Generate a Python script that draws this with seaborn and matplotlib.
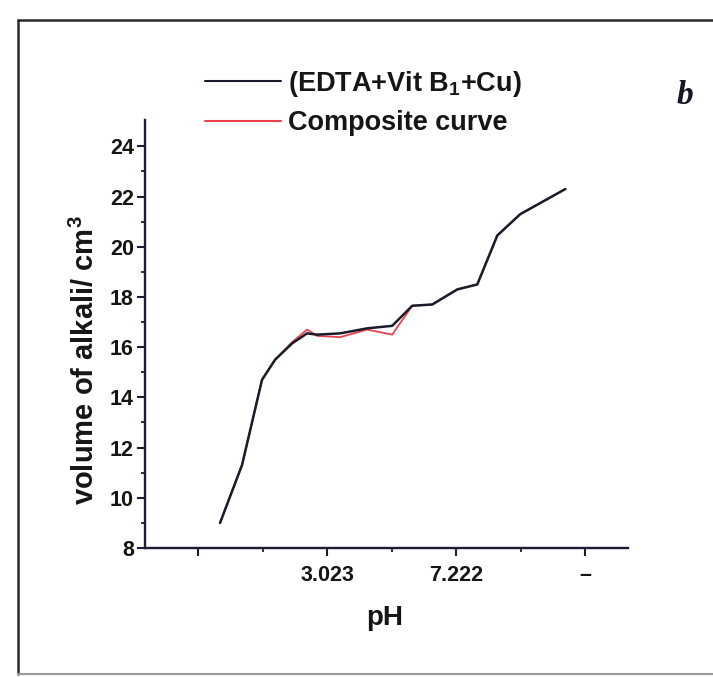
import matplotlib
matplotlib.use("Agg")
import matplotlib.pyplot as plt
from matplotlib.lines import Line2D
from matplotlib.ticker import FixedLocator
import seaborn as sns
import pandas as pd

# ---- data ----
x_pos = [0.171, 0.341, 0.496, 0.597, 0.729, 0.845, 0.922, 1.101, 1.310,
         1.504, 1.659, 1.814, 2.008, 2.163, 2.318, 2.496, 2.845]
vol_edta = [9.0, 11.3, 14.7, 15.5, 16.15, 16.55, 16.5, 16.55, 16.75,
            16.85, 17.65, 17.7, 18.3, 18.5, 20.45, 21.3, 22.3]
vol_comp = [9.0, 11.3, 14.7, 15.5, 16.2, 16.7, 16.45, 16.4, 16.7,
            16.5, 17.65, 17.7, 18.3, 18.5, 20.45, 21.3, 22.3]
label_edta = r"(EDTA+Vit B$_\mathbf{1}$+Cu)"
label_comp = "Composite curve"
x_major = [0, 1, 2, 3]
x_major_labels = ["", "3.023", "7.222", "\u2013"]
x_minor = [0.5, 1.5, 2.5]
y_major = [8, 10, 12, 14, 16, 18, 20, 22, 24]
y_minor = [9, 11, 13, 15, 17, 19, 21, 23]

df = pd.DataFrame({
    "x": x_pos + x_pos,
    "y": vol_comp + vol_edta,
    "series": [label_comp] * len(x_pos) + [label_edta] * len(x_pos),
})

sns.set_style("white")
plt.rcParams["font.family"] = ["Liberation Sans", "DejaVu Sans"]
plt.rcParams["font.weight"] = "bold"
plt.rcParams["mathtext.fontset"] = "custom"
plt.rcParams["mathtext.rm"] = "Liberation Sans:bold"
plt.rcParams["mathtext.bf"] = "Liberation Sans:bold"
plt.rcParams["mathtext.it"] = "Liberation Sans:bold:italic"

W, H = 713, 677
fig = plt.figure(figsize=(W / 100, H / 100), dpi=100)
fig.patch.set_facecolor("white")

ax_l, ax_r, ax_t, ax_b = 145, 628, 120, 548
ax = fig.add_axes([ax_l / W, 1 - ax_b / H, (ax_r - ax_l) / W, (ax_b - ax_t) / H])

c_black = "#1b1b2b"
c_red = "#e8424c"
sns.lineplot(data=df, x="x", y="y", hue="series",
             hue_order=[label_comp, label_edta],
             palette={label_comp: c_red, label_edta: c_black},
             sort=False, estimator=None, ax=ax, legend=True)
for ln in ax.get_lines():
    if ln.get_color() == c_red:
        ln.set_linewidth(1.3)
    else:
        ln.set_linewidth(1.8)

ax.set_xlim(-0.41, 3.33)
ax.set_ylim(8, 25.05)

spine_c = "#1c1c34"
for s in ["top", "right"]:
    ax.spines[s].set_visible(False)
for s in ["left", "bottom"]:
    ax.spines[s].set_linewidth(1.7)
    ax.spines[s].set_color(spine_c)

ax.xaxis.set_major_locator(FixedLocator(x_major))
ax.set_xticklabels(x_major_labels)
ax.xaxis.set_minor_locator(FixedLocator(x_minor))
ax.yaxis.set_major_locator(FixedLocator(y_major))
ax.yaxis.set_minor_locator(FixedLocator(y_minor))
ax.tick_params(axis="both", which="both", bottom=True, left=True, top=False, right=False)
ax.tick_params(axis="both", which="major", direction="out", length=6, width=1.5,
               colors=spine_c, labelcolor="#161616", labelsize=15.5)
ax.tick_params(axis="both", which="minor", direction="out", length=3, width=1.3,
               colors=spine_c)
ax.tick_params(axis="x", which="major", pad=6)
ax.tick_params(axis="y", which="major", pad=2)
for t in ax.get_xticklabels() + ax.get_yticklabels():
    t.set_fontweight("bold")

ax.set_xlabel("pH", fontsize=20, fontweight="bold", color="#161616")
ax.set_ylabel(r"volume of alkali/ cm$^\mathbf{3}$", fontsize=21, fontweight="bold",
              color="#161616")
ax.xaxis.set_label_coords(0.497, -0.133)
ax.xaxis.label.set_va("top")
ax.yaxis.set_label_coords(-0.124, 0.44)
ax.yaxis.label.set_va("center")

handles, labels = ax.get_legend_handles_labels()
order = [labels.index(label_edta), labels.index(label_comp)]
leg = ax.legend([handles[i] for i in order], [labels[i] for i in order],
                loc="center left",
                bbox_to_anchor=(205 / W, 1 - 102.5 / H),
                bbox_transform=fig.transFigure,
                frameon=False, borderpad=0, borderaxespad=0,
                handlelength=2.8, handletextpad=0.25, labelspacing=0.42,
                prop={"family": "Liberation Sans", "weight": "bold", "size": 19.5})
for t in leg.get_texts():
    t.set_color("#161616")
for h in leg.get_lines():
    h.set_linewidth(1.5)

fig.text(685 / W, 1 - 95 / H, "b", fontsize=24, fontweight="bold", fontstyle="italic",
         family="Liberation Serif", ha="center", va="center", color="#161624")

# scanned frame around the figure
fc = "#2a2a2a"
fig.add_artist(Line2D([18 / W, 1.0], [1 - 20 / H, 1 - 20 / H], transform=fig.transFigure,
                      color=fc, linewidth=1.8))
fig.add_artist(Line2D([18 / W, 18 / W], [1 - 20 / H, 1 - 674 / H], transform=fig.transFigure,
                      color=fc, linewidth=1.8))
fig.add_artist(Line2D([18 / W, 1.0], [1 - 674 / H, 1 - 674 / H], transform=fig.transFigure,
                      color="#999999", linewidth=1.5))

fig.savefig("out.png", dpi=100, facecolor="white")
